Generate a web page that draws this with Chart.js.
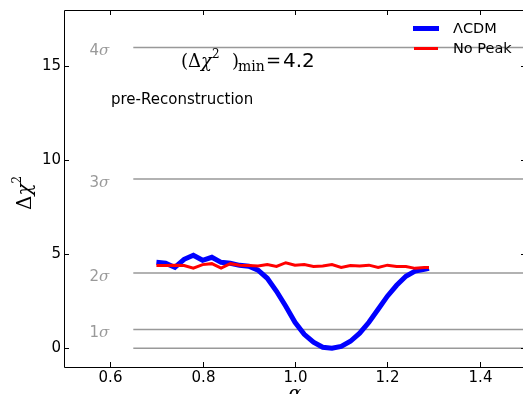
<!DOCTYPE html>
<html>
<head>
<meta charset="utf-8">
<script src="https://cdn.jsdelivr.net/npm/chart.js@4"></script>
<style>
  html, body { margin: 0; padding: 0; overflow: hidden; background: #fff; }
</style>
</head>
<body>
<canvas id="chi2Chart" width="530" height="394"></canvas>
<script>
// alpha grid shared by both curves
const alphaVals = [0.70, 0.72, 0.74, 0.76, 0.78, 0.80, 0.82, 0.84, 0.86, 0.88, 0.90,
  0.92, 0.94, 0.96, 0.98, 1.00, 1.02, 1.04, 1.06, 1.08, 1.10, 1.12, 1.14, 1.16,
  1.18, 1.20, 1.22, 1.24, 1.26, 1.28, 1.29];
const lcdmChi2 = [4.57, 4.52, 4.30, 4.73, 4.95, 4.68, 4.84, 4.57, 4.52, 4.41, 4.36,
  4.15, 3.72, 3.03, 2.23, 1.38, 0.74, 0.32, 0.05, 0.00, 0.10, 0.37, 0.80, 1.38,
  2.07, 2.77, 3.35, 3.83, 4.10, 4.20, 4.25];
const noPeakChi2 = [4.40, 4.40, 4.42, 4.40, 4.26, 4.45, 4.50, 4.26, 4.50, 4.42, 4.40,
  4.38, 4.45, 4.35, 4.55, 4.42, 4.45, 4.35, 4.38, 4.45, 4.30, 4.40, 4.38, 4.42,
  4.30, 4.42, 4.35, 4.35, 4.25, 4.30, 4.30];

const sigmaLevels = [0, 1, 4, 9, 16];
const sigmaNames = ["", "1", "2", "3", "4"];
const sigmaLineFrom = 0.65;
const sigmaLineTo = 1.5;

const xTicks = [0.6, 0.8, 1.0, 1.2, 1.4];
const yTicks = [0, 5, 10, 15];
const minChi2Label = "4.2";

const sans = "'DejaVu Sans', sans-serif";
const serif = "'DejaVu Serif', serif";
const gray = "#999999";

function pts(xs, ys) {
  return xs.map((x, i) => ({ x: x, y: ys[i] }));
}

// horizontal sigma lines go under the curves
const sigmaSets = sigmaLevels.map((lvl) => ({
  label: "sigma" + lvl,
  data: [{ x: sigmaLineFrom, y: lvl }, { x: sigmaLineTo, y: lvl }],
  borderColor: gray,
  borderWidth: 1.5,
  pointRadius: 0,
  order: 3,
}));

function drawParts(ctx, x, y, parts) {
  // parts: [text, font, dy]
  parts.forEach((p) => {
    ctx.font = p[1];
    ctx.fillText(p[0], x, y + (p[2] || 0));
    x += ctx.measureText(p[0]).width;
  });
}

const decorPlugin = {
  id: "decor",
  afterDraw(chart) {
    const ctx = chart.ctx;
    const a = chart.chartArea;
    const xs = chart.scales.x;
    const ys = chart.scales.y;
    ctx.save();

    // frame
    ctx.strokeStyle = "#000";
    ctx.lineWidth = 1;
    ctx.beginPath();
    ctx.moveTo(a.right, a.top + 0.5);
    ctx.lineTo(a.left + 0.5, a.top + 0.5);
    ctx.lineTo(a.left + 0.5, a.bottom + 0.5);
    ctx.lineTo(a.right, a.bottom + 0.5);
    ctx.moveTo(a.right - 0.5, a.bottom);
    ctx.lineTo(a.right - 0.5, a.top);
    ctx.stroke();

    // inward ticks and tick labels
    ctx.beginPath();
    ctx.fillStyle = "#000";
    ctx.font = "15px " + sans;
    ctx.textAlign = "center";
    ctx.textBaseline = "top";
    xTicks.forEach((v) => {
      const px = Math.round(xs.getPixelForValue(v)) + 0.5;
      ctx.moveTo(px, a.bottom); ctx.lineTo(px, a.bottom - 5);
      ctx.moveTo(px, a.top); ctx.lineTo(px, a.top + 5);
      ctx.fillText(v.toFixed(1), px, a.bottom + 4);
    });
    ctx.textAlign = "right";
    ctx.textBaseline = "middle";
    yTicks.forEach((v) => {
      const py = Math.round(ys.getPixelForValue(v)) + 0.5;
      ctx.moveTo(a.left, py); ctx.lineTo(a.left + 5, py);
      ctx.moveTo(a.right, py); ctx.lineTo(a.right - 5, py);
      ctx.fillText(String(v), a.left - 3, py);
    });
    ctx.stroke();
    ctx.textAlign = "left";

    // sigma labels
    ctx.fillStyle = gray;
    sigmaLevels.forEach((lvl, i) => {
      if (!sigmaNames[i]) return;
      const py = ys.getPixelForValue(lvl) + 4;
      drawParts(ctx, xs.getPixelForValue(0.555), py, [
        [sigmaNames[i], "15px " + sans],
        ["σ", "italic 15px " + serif],
      ]);
    });

    // annotation, pieces placed like the mathtext layout
    ctx.fillStyle = "#000";
    ctx.textBaseline = "alphabetic";
    const base = 67;
    drawParts(ctx, 181, base, [
      ["(", "18px " + serif],
      ["Δ", "18px " + serif],
      ["χ", "italic 18px " + serif],
      ["2", "12px " + serif, -9],
    ]);
    ctx.font = "18px " + serif;
    ctx.fillText(")", 232, base);
    ctx.font = "14px " + serif;
    ctx.fillText("min", 238, base + 4);
    ctx.font = "18px " + serif;
    ctx.fillText("=", 266, base);
    ctx.font = "20px " + sans;
    ctx.fillText(minChi2Label, 283, base);

    ctx.font = "15px " + sans;
    ctx.fillText("pre-Reconstruction", 111, 104);

    // legend
    ctx.lineCap = "butt";
    ctx.strokeStyle = "#0000ff";
    ctx.lineWidth = 5;
    ctx.beginPath(); ctx.moveTo(413, 28.5); ctx.lineTo(439, 28.5); ctx.stroke();
    ctx.strokeStyle = "#ff0000";
    ctx.lineWidth = 3;
    ctx.beginPath(); ctx.moveTo(414, 48.5); ctx.lineTo(438, 48.5); ctx.stroke();
    ctx.fillStyle = "#000";
    ctx.font = "14.5px " + sans;
    ctx.textBaseline = "middle";
    ctx.fillText("ΛCDM", 453, 29);
    ctx.fillText("No Peak", 453, 49);

    // axis labels
    ctx.save();
    ctx.translate(31, 193);
    ctx.rotate(-Math.PI / 2);
    ctx.textBaseline = "alphabetic";
    drawParts(ctx, -17, 0, [
      ["Δ", "20px " + serif],
      ["χ", "italic 20px " + serif],
      ["2", "12px " + serif, -10],
    ]);
    ctx.restore();
    ctx.textAlign = "center";
    ctx.textBaseline = "top";
    ctx.font = "italic 19px " + serif;
    ctx.fillText("α", xs.getPixelForValue(1.0), 385);

    ctx.restore();
  },
};

const ctx = document.getElementById("chi2Chart").getContext("2d");
const chart = new Chart(ctx, {
  type: "line",
  data: {
    datasets: [
      {
        label: "ΛCDM",
        data: pts(alphaVals, lcdmChi2),
        borderColor: "#0000ff",
        borderWidth: 5,
        pointRadius: 0,
        order: 2,
      },
      {
        label: "No Peak",
        data: pts(alphaVals, noPeakChi2),
        borderColor: "#ff0000",
        borderWidth: 3,
        pointRadius: 0,
        order: 1,
      },
      ...sigmaSets,
    ],
  },
  options: {
    responsive: false,
    animation: false,
    devicePixelRatio: 1,
    layout: { padding: { top: 10, right: 4, left: 0, bottom: 0 } },
    plugins: { legend: { display: false }, tooltip: { enabled: false } },
    scales: {
      x: {
        type: "linear",
        min: 0.5,
        max: 1.5,
        grid: { display: false },
        border: { display: false },
        ticks: { display: false },
        afterFit: (s) => { s.height = 27; },
      },
      y: {
        type: "linear",
        min: -1,
        max: 18,
        grid: { display: false },
        border: { display: false },
        ticks: { display: false },
        afterFit: (s) => { s.width = 64; },
      },
    },
  },
  plugins: [decorPlugin],
});
</script>
</body>
</html>
